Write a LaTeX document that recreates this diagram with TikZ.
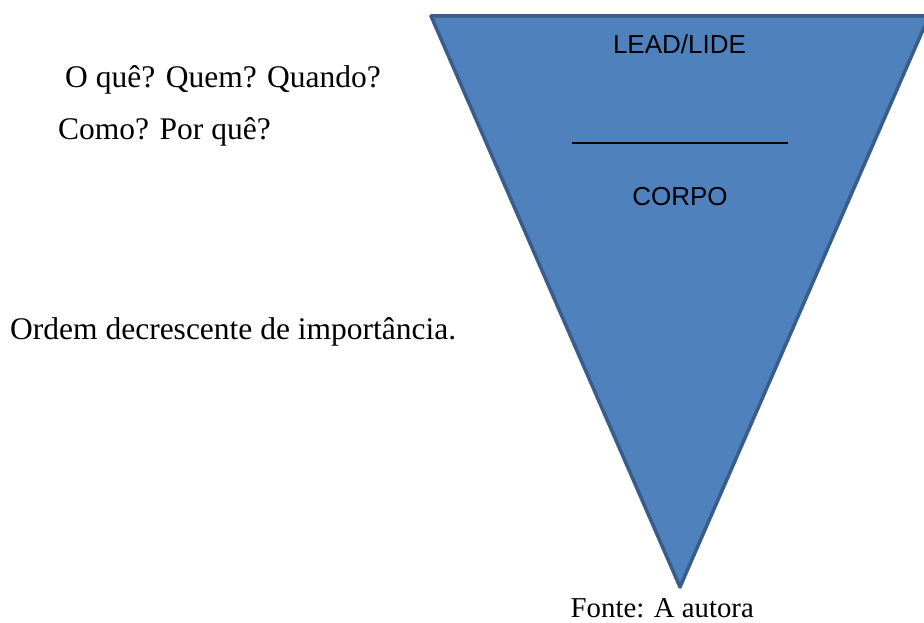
\documentclass[tikz,border=0pt]{standalone}
\usepackage{fontspec}
\setmainfont{Liberation Serif}
\newfontfamily\arialfont{Liberation Sans}
\definecolor{funfill}{HTML}{4F81BD}
\definecolor{funedge}{HTML}{385D8A}
\tikzset{
  seriftext/.style={inner sep=0pt, font=\fontsize{31.5}{36}\selectfont},
  sanstext/.style={inner sep=0pt, font=\arialfont\fontsize{26}{30}\selectfont},
  funnel/.style={fill=funfill, draw=funedge, line width=3.5pt, line join=round}
}
\begin{document}
\begin{tikzpicture}[x=1pt,y=-1pt]
\useasboundingbox (0,0) rectangle (924,623);
\begin{scope}
\clip (0,0) rectangle (924,623);
\coordinate (tl) at (431,16);
\coordinate (tr) at (929,16);
\coordinate (bt) at (680,587);
\draw[funnel] (tl) -- (tr) -- (bt) -- cycle;
\end{scope}
\node[sanstext, anchor=base] (lead) at (679.5,54) {LEAD/LIDE};
\coordinate (la) at (572,143);
\coordinate (lb) at (788,143);
\draw[line width=2pt, black] (la) -- (lb);
\node[sanstext, anchor=base] (corpo) at (680,205) {CORPO};
\node[seriftext, anchor=base west] (q1) at (65,88) {O quê? Quem? Quando?};
\node[seriftext, anchor=base west] (q2) at (58,140) {Como? Por quê?};
\node[seriftext, anchor=base west] (ordem) at (10,339) {Ordem decrescente de importância.};
\node[inner sep=0pt, font=\fontsize{28.8}{33}\selectfont, anchor=base west] (fonte) at (570.5,617.5) {Fonte: A autora};
\end{tikzpicture}
\end{document}
